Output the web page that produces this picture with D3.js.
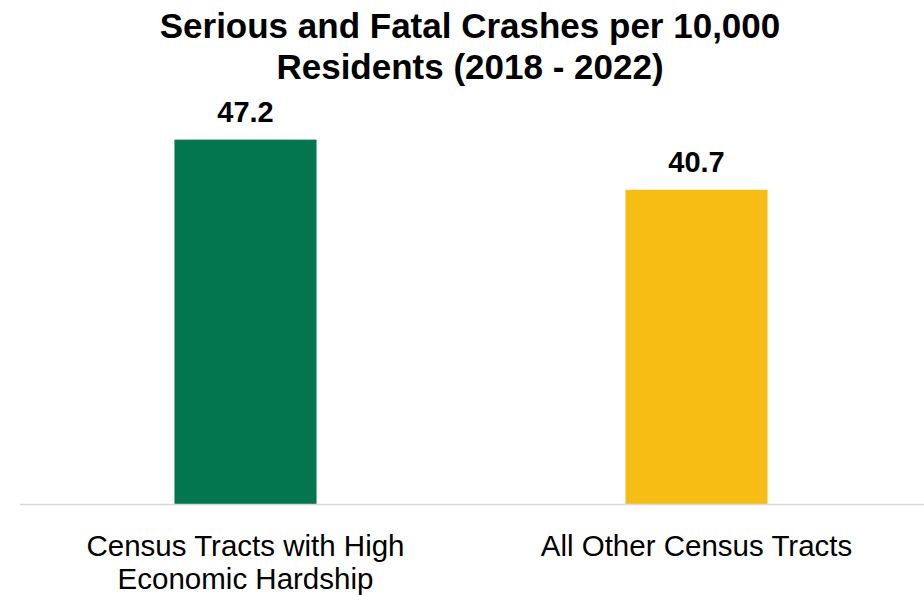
<!DOCTYPE html>
<html>
<head>
<meta charset="utf-8">
<script src="https://cdn.jsdelivr.net/npm/d3@7"></script>
<style>
  html, body { margin: 0; padding: 0; background: #fff; }
  svg { display: block; }
  text { font-family: "Liberation Sans", Arial, sans-serif; fill: #000; }
</style>
</head>
<body>
<svg id="chart"></svg>
<script>
// chart data
const categories = ["Census Tracts with High Economic Hardship", "All Other Census Tracts"];
const values = [47.2, 40.7];
const colors = ["#03754f", "#f6be15"];
const categoryLines = [["Census Tracts with High", "Economic Hardship"], ["All Other Census Tracts"]];
const titleLines = ["Serious and Fatal Crashes per 10,000", "Residents (2018 - 2022)"];

const width = 924;
const height = 595;
const margin = { top: 118, right: 2, bottom: 91, left: 20 };

const svg = d3.select("#chart").attr("width", width).attr("height", height);

// scales
const x = d3
  .scaleBand()
  .domain(categories)
  .range([margin.left, width - margin.right])
  .paddingInner(0.685)
  .paddingOuter(0.3425);

const y = d3
  .scaleLinear()
  .domain([0, 50])
  .range([height - margin.bottom, margin.top]);

// title
svg
  .append("g")
  .selectAll("text")
  .data(titleLines)
  .join("text")
  .attr("x", width / 2 + 8)
  .attr("y", (_, i) => 38 + i * 41)
  .attr("text-anchor", "middle")
  .attr("font-size", 35)
  .attr("font-weight", "bold")
  .text((d) => d);

// bars
svg
  .append("g")
  .selectAll("rect")
  .data(values)
  .join("rect")
  .attr("x", (_, i) => x(categories[i]))
  .attr("width", x.bandwidth())
  .attr("y", (d) => y(d))
  .attr("height", (d) => y(0) - y(d))
  .attr("fill", (_, i) => colors[i]);

// baseline (x axis line, no ticks)
const xAxis = d3.axisBottom(x).tickSize(0).tickFormat("");
const gx = svg
  .append("g")
  .attr("transform", `translate(0,${y(0) + 0.5})`)
  .call(xAxis);
gx.select(".domain").attr("stroke", "#d9d9d9").attr("stroke-width", 1.5).attr("d", `M${margin.left},0H${width}`);

// value labels
svg
  .append("g")
  .selectAll("text")
  .data(values)
  .join("text")
  .attr("x", (_, i) => x(categories[i]) + x.bandwidth() / 2)
  .attr("y", (d) => y(d) - 18)
  .attr("text-anchor", "middle")
  .attr("font-size", 29)
  .attr("font-weight", "bold")
  .text((d) => d.toFixed(1));

// category labels
const labels = svg
  .append("g")
  .selectAll("text")
  .data(categories)
  .join("text")
  .attr("text-anchor", "middle")
  .attr("font-size", 29.5)
  .attr("transform", (d) => `translate(${x(d) + x.bandwidth() / 2},${y(0) + 52})`);

labels
  .selectAll("tspan")
  .data((_, i) => categoryLines[i])
  .join("tspan")
  .attr("x", 0)
  .attr("dy", (_, j) => (j === 0 ? 0 : 33))
  .text((d) => d);
</script>
</body>
</html>
